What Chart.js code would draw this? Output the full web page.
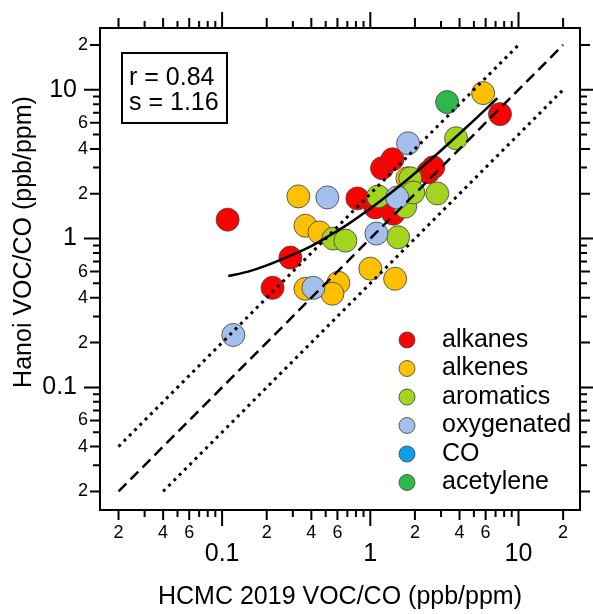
<!DOCTYPE html>
<html>
<head>
<meta charset="utf-8">
<script src="https://cdn.jsdelivr.net/npm/chart.js@4/dist/chart.umd.min.js"></script>
<style>
  html, body { margin: 0; padding: 0; background: #fff; }
  canvas { display: block; }
</style>
</head>
<body>
<canvas id="chart" width="593" height="614"></canvas>
<script>
// values: x = HCMC 2019 VOC/CO, y = Hanoi VOC/CO
const alkanesX = [0.109, 0.219, 0.289, 0.818, 1.08, 1.43, 1.20, 1.41, 2.46, 2.66, 7.5];
const alkanesY = [1.34, 0.467, 0.745, 1.86, 1.62, 1.47, 2.97, 3.41, 2.79, 3.01, 6.86];
const alkenesX = [0.327, 0.365, 0.454, 0.365, 0.609, 0.555, 1.0, 1.47, 1.78, 5.77];
const alkenesY = [1.92, 1.22, 1.10, 0.46, 0.505, 0.426, 0.628, 0.537, 2.54, 9.5];
const aromaticsX = [0.563, 0.679, 1.13, 1.72, 1.86, 1.95, 2.83, 1.54, 3.79];
const aromaticsY = [1.0, 0.969, 1.92, 1.64, 2.54, 2.04, 2.01, 1.02, 4.72];
const oxygenatedX = [0.119, 0.413, 0.513, 1.52, 1.80, 1.10];
const oxygenatedY = [0.225, 0.467, 1.89, 1.89, 4.37, 1.08];
const coX = [];
const coY = [];
const acetyleneX = [3.30];
const acetyleneY = [8.26];

// fitted curve, read along its path
const fitX = [0.11, 0.15, 0.2, 0.3, 0.4, 0.5, 0.7, 1, 1.5, 2, 3, 4, 5, 6, 7.2];
const fitY = [0.56, 0.60, 0.66, 0.78, 0.89, 1.01, 1.24, 1.59, 2.17, 2.75, 3.91, 5.07, 6.23, 7.39, 8.78];

// reference lines 1:1, 2:1 and 1:2
const oneToOneX = [0.02, 20];
const oneToOneY = [0.02, 20];
const upperX = [0.02, 10];
const upperY = [0.04, 20];
const lowerX = [0.04, 20];
const lowerY = [0.02, 10];

// axes
const axisMin = 0.015;
const axisMax = 26;
const decades = [0.01, 0.1, 1, 10];
const majorLabels = ['0.01', '0.1', '1', '10'];
const labelledMinor = [2, 4, 6];

const statR = 'r = 0.84';
const statS = 's = 1.16';

const FONT = '"Liberation Sans", Arial, sans-serif';
const pointBorder = 'rgba(70,70,70,0.85)';

function pts(xs, ys) {
    return xs.map((v, i) => ({ x: v, y: ys[i] }));
}

function group(label, xs, ys, color, order) {
    return {
        label: label,
        data: pts(xs, ys),
        backgroundColor: color,
        borderColor: pointBorder,
        borderWidth: 1,
        pointRadius: 11.5,
        pointHoverRadius: 11.5,
        order: order
    };
}

function refLine(xs, ys, dash, width) {
    return {
        label: '',
        data: pts(xs, ys),
        showLine: true,
        borderColor: '#000',
        borderWidth: width,
        borderDash: dash,
        borderCapStyle: 'butt',
        pointRadius: 0,
        fill: false,
        order: 0,
        isRef: true
    };
}

const frame = {
    id: 'frame',
    afterDraw(chart) {
        const { ctx, chartArea: a, scales: { x, y } } = chart;
        ctx.save();
        ctx.strokeStyle = '#000';
        ctx.fillStyle = '#000';
        ctx.lineWidth = 2;
        ctx.strokeRect(a.left, a.top, a.right - a.left, a.bottom - a.top);

        // tick marks and labels on all four sides
        decades.forEach((d, di) => {
            for (let m = 1; m <= 9; m++) {
                const v = m * d;
                if (v < axisMin || v > axisMax) continue;
                const labelled = labelledMinor.includes(m);
                const len = m === 1 ? 16 : (labelled ? 10 : 7);
                const px = x.getPixelForValue(v);
                const py = y.getPixelForValue(v);
                ctx.beginPath();
                ctx.moveTo(px, a.bottom); ctx.lineTo(px, a.bottom + len);
                ctx.moveTo(px, a.top); ctx.lineTo(px, a.top - len);
                ctx.moveTo(a.left, py); ctx.lineTo(a.left - len, py);
                ctx.moveTo(a.right, py); ctx.lineTo(a.right + len, py);
                ctx.stroke();

                ctx.textBaseline = 'middle';
                if (m === 1) {
                    ctx.font = '25px ' + FONT;
                    ctx.textAlign = 'center';
                    ctx.fillText(majorLabels[di], px, a.bottom + 44);
                    ctx.textAlign = 'right';
                    ctx.fillText(majorLabels[di], a.left - 23, py);
                } else if (labelled) {
                    ctx.font = '18px ' + FONT;
                    ctx.textAlign = 'center';
                    ctx.fillText(String(m), px, a.bottom + 23);
                    ctx.textAlign = 'right';
                    ctx.fillText(String(m), a.left - 12, py);
                }
            }
        });

        // axis titles
        ctx.font = '25px ' + FONT;
        ctx.textAlign = 'center';
        ctx.textBaseline = 'middle';
        ctx.fillText('HCMC 2019 VOC/CO (ppb/ppm)', (a.left + a.right) / 2, 597);
        ctx.save();
        ctx.translate(24, 242);
        ctx.rotate(-Math.PI / 2);
        ctx.fillText('Hanoi VOC/CO (ppb/ppm)', 0, 0);
        ctx.restore();

        // stats box
        ctx.lineWidth = 2;
        ctx.strokeRect(a.left + 22, a.top + 25, 105, 70);
        ctx.textAlign = 'left';
        ctx.fillText(statR, a.left + 29, a.top + 50);
        ctx.fillText(statS, a.left + 29, a.top + 75);

        // legend
        const groups = chart.data.datasets.filter(ds => !ds.isRef);
        groups.sort((p, q) => p.legendIndex - q.legendIndex);
        groups.forEach((ds, i) => {
            const ly = a.top + 312 + i * 28.5;
            ctx.beginPath();
            ctx.arc(a.left + 307, ly, 8, 0, Math.PI * 2);
            ctx.fillStyle = ds.backgroundColor;
            ctx.fill();
            ctx.lineWidth = 1;
            ctx.strokeStyle = pointBorder;
            ctx.stroke();
            ctx.fillStyle = '#000';
            ctx.fillText(ds.label, a.left + 342, ly);
        });
        ctx.restore();
    }
};

const datasets = [
    refLine(fitX, fitY, [], 2.5),
    refLine(oneToOneX, oneToOneY, [11, 6], 2.5),
    refLine(upperX, upperY, [3, 4.5], 3),
    refLine(lowerX, lowerY, [3, 4.5], 3),
    group('alkanes', alkanesX, alkanesY, '#FF0000', 5),
    group('alkenes', alkenesX, alkenesY, '#FFC000', 4),
    group('aromatics', aromaticsX, aromaticsY, '#A2D61E', 3),
    group('oxygenated', oxygenatedX, oxygenatedY, '#A3BFEC', 2),
    group('CO', coX, coY, '#0AA0EE', 1),
    group('acetylene', acetyleneX, acetyleneY, '#2DB84A', 1)
];
datasets[0].tension = 0.3;
datasets.filter(ds => !ds.isRef).forEach((ds, i) => { ds.legendIndex = i; });

new Chart(document.getElementById('chart'), {
    type: 'scatter',
    data: { datasets: datasets },
    options: {
        responsive: false,
        animation: false,
        devicePixelRatio: 1,
        layout: { padding: { left: 100, top: 28, right: 13, bottom: 104 } },
        plugins: {
            legend: { display: false },
            tooltip: { enabled: false }
        },
        scales: {
            x: { type: 'logarithmic', min: axisMin, max: axisMax, bounds: 'data', display: false },
            y: { type: 'logarithmic', min: axisMin, max: axisMax, bounds: 'data', display: false }
        }
    },
    plugins: [frame]
});
</script>
</body>
</html>
